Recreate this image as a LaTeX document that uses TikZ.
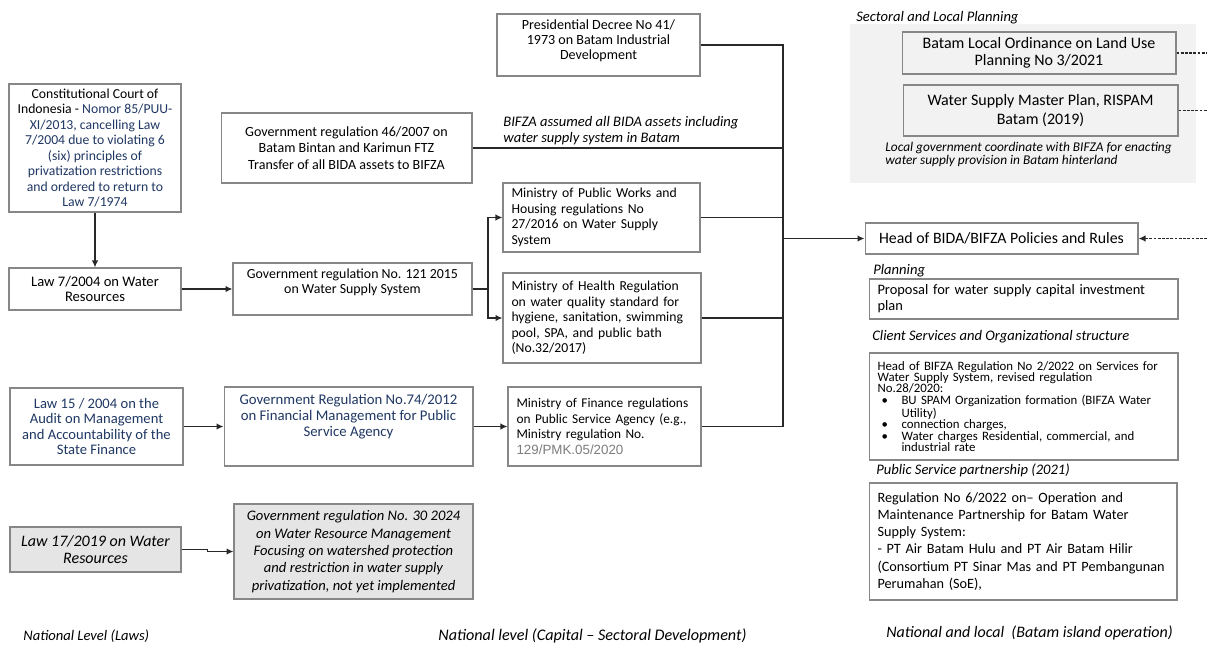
\documentclass[tikz,border=0pt]{standalone}
\usepackage{fontspec}
\setmainfont{Carlito}
\newfontfamily\arialfont{Liberation Sans}
\usepackage{tikz}
\usetikzlibrary{arrows.meta,positioning,calc}
\definecolor{lawnavy}{RGB}{32,56,100}
\definecolor{framegray}{RGB}{135,135,135}
\definecolor{panelgray}{RGB}{242,242,242}
\definecolor{shadegray}{RGB}{229,229,229}
\definecolor{wiregray}{RGB}{40,40,40}
\definecolor{numgray}{RGB}{125,125,125}

\begin{document}
\begin{tikzpicture}[x=0.02cm,y=-0.02cm,
  lawbox/.style={draw=framegray,line width=0.6pt,fill=white,align=center,inner sep=0pt,font=\fontsize{7.8}{8.8}\selectfont},
  leftbox/.style={lawbox,align=left,inner xsep=0.17cm},
  wire/.style={draw=wiregray,line width=0.9pt},
  arr/.style={wire,-{Latex[length=1.4mm,width=1.3mm]}},
  dashwire/.style={wire,dash pattern=on 1.6pt off 0.8pt},
  tag/.style={anchor=west,inner sep=0pt,align=left,font=\fontsize{8.3}{9}\selectfont\itshape}]
  \useasboundingbox (0,0) rectangle (1207,646);

  \node[lawbox,text=lawnavy,minimum width=3.44cm,minimum height=2.56cm] (court) at (95,148)
    {{\color{black}Constitutional Court of}\\{\color{black}Indonesia -} Nomor 85/PUU-\\XI/2013, cancelling Law\\7/2004 due to violating 6\\(six) principles of\\privatization restrictions\\and ordered to return to\\Law 7/1974};
  \node[lawbox,font=\fontsize{8.3}{8.9}\selectfont,minimum width=3.44cm,minimum height=0.84cm] (law7) at (95,289) {Law 7/2004 on Water\\Resources};
  \node[lawbox,text=lawnavy,font=\fontsize{8.3}{8.9}\selectfont,minimum width=3.46cm,minimum height=1.54cm] (law15) at (96.5,426.5)
    {Law 15 / 2004 on the\\Audit on Management\\and Accountability of the\\State Finance};
  \node[lawbox,fill=shadegray,font=\fontsize{9.1}{10}\selectfont\itshape,minimum width=3.42cm,minimum height=0.9cm] (law17) at (95.5,549.5)
    {Law 17/2019 on Water\\Resources};

  \node[lawbox,font=\fontsize{8}{9.5}\selectfont,minimum width=5.02cm,minimum height=1.4cm] (gr46) at (346.5,148)
    {Government regulation 46/2007 on\\Batam Bintan and Karimun FTZ\\Transfer of all BIDA assets to BIFZA};
  \node[lawbox,font=\fontsize{7.9}{8.6}\selectfont,text depth=8.8pt,minimum width=4.78cm,minimum height=1.04cm] (gr121) at (352.5,289)
    {Government regulation No. 121 2015\\on Water Supply System};
  \node[lawbox,text=lawnavy,font=\fontsize{8.4}{9}\selectfont,text depth=13pt,minimum width=4.98cm,minimum height=1.58cm] (gr74) at (348.5,426.5)
    {Government Regulation No.74/2012\\on Financial Management for Public\\Service Agency};
  \node[lawbox,fill=shadegray,font=\fontsize{8.3}{9.9}\selectfont\itshape,minimum width=4.78cm,minimum height=1.9cm] (gr30) at (353.5,551.5)
    {Government regulation No. 30 2024\\on Water Resource Management\\Focusing on watershed protection\\and restriction in water supply\\privatization, not yet implemented};

  \node[lawbox,font=\fontsize{8}{8.6}\selectfont,text depth=6pt,minimum width=4.06cm,minimum height=1.24cm] (decree) at (598.5,45)
    {Presidential Decree No 41/\\1973 on Batam Industrial\\Development};
  \node[leftbox,text width=3.6cm,minimum height=1.38cm] (works) at (601.5,217.5)
    {Ministry of Public Works and\\Housing regulations No\\27/2016 on Water Supply\\System};
  \node[leftbox,text width=3.62cm,minimum height=1.8cm] (health) at (602,318)
    {Ministry of Health Regulation\\on water quality standard for\\hygiene, sanitation, swimming\\pool, SPA, and public bath\\(No.32/2017)};
  \node[leftbox,text width=3.52cm,font=\fontsize{7.6}{8.8}\selectfont,minimum height=1.58cm] (finance) at (604.5,426.5)
    {Ministry of Finance regulations\\on Public Service Agency (e.g.,\\Ministry regulation No.\\{\arialfont\color{numgray}129/PMK.05/2020}};
  \node[tag] (assets) at (503,130.5)
    {BIFZA assumed all BIDA assets including\\water supply system in Batam};

  \fill[panelgray] (850,24) rectangle (1196,183);
  \node[tag] (sectoral) at (856,18) {Sectoral and Local Planning};
  \node[lawbox,fill=panelgray,font=\fontsize{9.1}{9.7}\selectfont,minimum width=5.48cm,minimum height=0.84cm] (landuse) at (1039,53)
    {Batam Local Ordinance on Land Use\\Planning No 3/2021};
  \node[lawbox,fill=panelgray,font=\fontsize{9.1}{11.2}\selectfont,minimum width=5.5cm,minimum height=1.02cm] (rispam) at (1040.5,110.5)
    {Water Supply Master Plan, RISPAM\\Batam (2019)};
  \node[tag,font=\fontsize{7.6}{5.4}\selectfont\itshape] (hinter) at (885,154.5)
    {Local government coordinate with BIFZA for enacting\\water supply provision in Batam hinterland};

  \node[lawbox,font=\fontsize{9}{10}\selectfont,minimum width=5.46cm,minimum height=0.62cm] (head) at (1001.5,238.5)
    {Head of BIDA/BIFZA Policies and Rules};
  \node[tag] (planning) at (873,271) {Planning};
  \node[leftbox,text width=5.84cm,font=\fontsize{8.2}{9.2}\selectfont,minimum height=0.8cm] (proposal) at (1023.5,299)
    {Proposal for water supply capital investment\\plan};
  \node[tag] (client) at (872,337) {Client Services and Organizational structure};
  \node[leftbox,text width=5.84cm,font=\fontsize{7.3}{6.4}\selectfont,minimum height=2.14cm] (services) at (1023.5,406.5)
    {Head of BIFZA Regulation No 2/2022 on Services for\\Water Supply System, revised regulation\\No.28/2020:\\
     \hspace*{0.08cm}\makebox[0.4cm][l]{\textbullet}BU SPAM Organization formation (BIFZA Water\\
     \hspace*{0.48cm}Utility)\\
     \hspace*{0.08cm}\makebox[0.4cm][l]{\textbullet}connection charges,\\
     \hspace*{0.08cm}\makebox[0.4cm][l]{\textbullet}Water charges Residential, commercial, and\\
     \hspace*{0.48cm}industrial rate};
  \node[tag] (publicsvc) at (876,470) {Public Service partnership (2021)};
  \node[leftbox,text width=5.82cm,font=\fontsize{8.1}{9.7}\selectfont,minimum height=2.34cm] (partner) at (1023,541.5)
    {Regulation No 6/2022 on– Operation and\\Maintenance Partnership for Batam Water\\Supply System:\\- PT Air Batam Hulu and PT Air Batam Hilir\\(Consortium PT Sinar Mas and PT Pembangunan\\Perumahan (SoE),};

  \node[tag] (laws) at (23,636) {National Level (Laws)};
  \node[tag,font=\fontsize{9.2}{10}\selectfont\itshape] (sector) at (438,636) {National level (Capital – Sectoral Development)};
  \node[tag,font=\fontsize{9.1}{10}\selectfont\itshape] (island) at (886,633) {National and local\ \ (Batam island operation)};

  \coordinate (split) at (488,289);
  \coordinate (bustop) at (783,45);
  \coordinate (busbot) at (783,426.5);
  \coordinate (rim) at (1207,0);

  \draw[arr] (court) -- (law7);
  \draw[arr] (law7) -- (gr121);
  \draw[wire] (gr121) -- (split);
  \draw[arr] (split) |- (works);
  \draw[arr] (split) |- (health);
  \draw[arr] (law15) -- (gr74);
  \draw[arr] (gr74) -- (finance);
  \draw[arr] (law17.east) -- +(26,0) |- (gr30.west);

  \draw[wire] (decree.east) -- (bustop) -- (busbot) -- (finance.east);
  \foreach \n in {gr46,works,health}
    \draw[wire] (\n.east) -- (\n.east -| bustop);
  \draw[arr] (head.west -| bustop) -- (head);

  \foreach \n in {landuse,rispam}
    \draw[dashwire] (\n.east) -- (\n.east -| rim);
  \draw[dashwire,-{Latex[length=1.4mm,width=1.3mm]}] (head.east -| rim) -- (head.east);
\end{tikzpicture}
\end{document}
